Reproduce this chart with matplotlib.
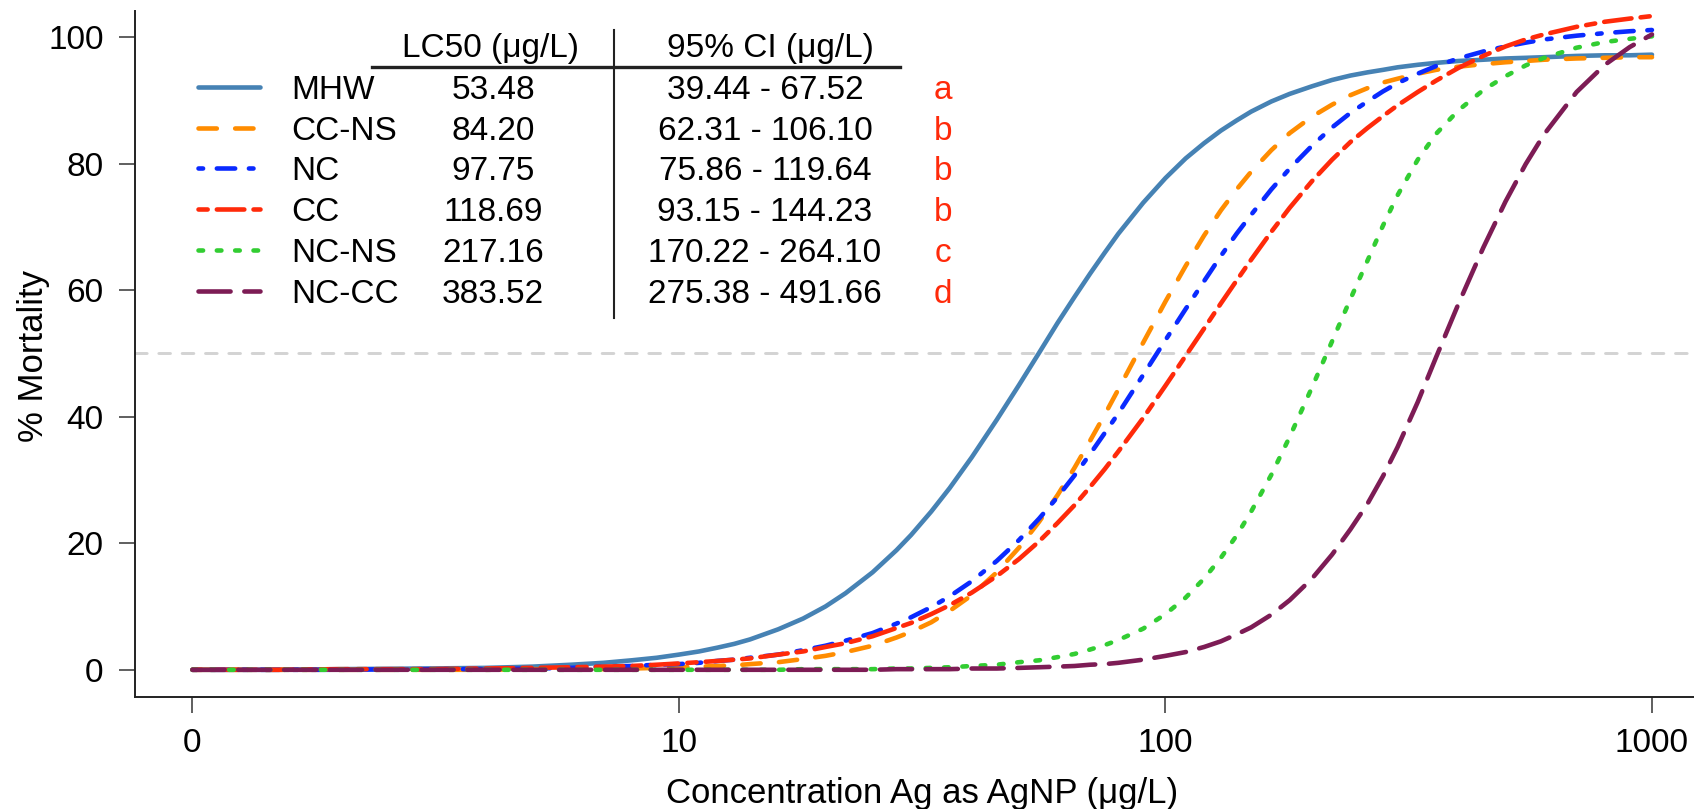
import matplotlib.pyplot as plt
from matplotlib.lines import Line2D
from matplotlib.ticker import NullLocator

plt.rcParams['font.family'] = ['Liberation Sans', 'DejaVu Sans']

# concentration (ug/L), 1 is drawn at the "0" tick
conc = [1, 1.5, 2, 3, 4, 5, 6, 7, 8, 9,
        10, 11, 12, 13, 14, 16, 18, 20, 22, 25,
        28, 30, 33, 36, 40, 45, 50, 55, 60, 65,
        70, 75, 80, 90, 100, 110, 120, 130, 140, 150,
        165, 180, 200, 220, 240, 260, 280, 300, 330, 360,
        400, 450, 500, 550, 600, 700, 800, 900, 1000]

# % mortality
mhw = [0.0, 0.0, 0.1, 0.2, 0.3, 0.5, 0.8, 1.1, 1.5, 1.9,
       2.4, 2.9, 3.5, 4.1, 4.8, 6.4, 8.1, 10.0, 12.1, 15.4,
       18.9, 21.3, 25.0, 28.7, 33.6, 39.5, 45.0, 50.1, 54.8, 58.9,
       62.6, 65.9, 68.9, 73.8, 77.7, 80.8, 83.2, 85.2, 86.8, 88.2,
       89.8, 91.0, 92.2, 93.2, 93.9, 94.4, 94.8, 95.2, 95.6, 95.9,
       96.2, 96.4, 96.6, 96.7, 96.8, 97.0, 97.1, 97.1, 97.2]
cc_ns = [0.0, 0.0, 0.0, 0.0, 0.0, 0.1, 0.1, 0.1, 0.2, 0.3,
         0.4, 0.5, 0.6, 0.7, 0.9, 1.2, 1.7, 2.2, 2.8, 3.8,
         5.1, 6.0, 7.5, 9.3, 11.8, 15.4, 19.3, 23.4, 27.6, 31.9,
         36.2, 40.3, 44.3, 51.7, 58.2, 63.8, 68.6, 72.6, 75.9, 78.7,
         82.1, 84.8, 87.4, 89.3, 90.8, 91.9, 92.8, 93.4, 94.2, 94.8,
         95.3, 95.7, 96.0, 96.2, 96.4, 96.6, 96.7, 96.8, 96.8]
nc = [0.0, 0.0, 0.0, 0.1, 0.1, 0.2, 0.3, 0.5, 0.6, 0.8,
      0.9, 1.1, 1.4, 1.6, 1.9, 2.4, 3.1, 3.8, 4.6, 5.8,
      7.3, 8.3, 9.9, 11.6, 14.0, 17.2, 20.5, 23.9, 27.3, 30.7,
      34.1, 37.4, 40.5, 46.6, 52.1, 57.0, 61.4, 65.4, 68.9, 71.9,
      75.9, 79.2, 82.8, 85.7, 88.0, 89.8, 91.4, 92.7, 94.2, 95.4,
      96.6, 97.7, 98.5, 99.1, 99.6, 100.2, 100.6, 100.9, 101.1]
cc = [0.0, 0.0, 0.1, 0.1, 0.2, 0.3, 0.4, 0.5, 0.6, 0.8,
      1.0, 1.2, 1.4, 1.6, 1.8, 2.4, 2.9, 3.6, 4.2, 5.3,
      6.6, 7.4, 8.8, 10.2, 12.2, 14.8, 17.5, 20.3, 23.2, 26.0,
      28.9, 31.7, 34.5, 39.8, 44.9, 49.6, 53.9, 57.9, 61.5, 64.8,
      69.2, 73.0, 77.2, 80.6, 83.4, 85.6, 87.5, 89.2, 91.3, 93.1,
      95.1, 97.0, 98.5, 99.6, 100.4, 101.6, 102.4, 102.9, 103.3]
nc_ns = [0.0, 0.0, 0.0, 0.0, 0.0, 0.0, 0.0, 0.0, 0.0, 0.0,
         0.0, 0.0, 0.0, 0.0, 0.0, 0.0, 0.1, 0.1, 0.1, 0.1,
         0.2, 0.2, 0.3, 0.4, 0.6, 0.8, 1.2, 1.5, 2.0, 2.5,
         3.2, 3.9, 4.7, 6.5, 8.8, 11.4, 14.4, 17.7, 21.2, 25.0,
         30.8, 36.8, 44.6, 51.9, 58.6, 64.6, 70.2, 75.0, 80.6, 84.7,
         88.4, 91.6, 93.8, 95.5, 96.7, 98.3, 99.2, 99.7, 100.1]
nc_cc = [0.0, 0.0, 0.0, 0.0, 0.0, 0.0, 0.0, 0.0, 0.0, 0.0,
         0.0, 0.0, 0.0, 0.0, 0.0, 0.0, 0.0, 0.0, 0.0, 0.0,
         0.1, 0.1, 0.1, 0.1, 0.2, 0.2, 0.3, 0.4, 0.5, 0.6,
         0.8, 0.9, 1.1, 1.6, 2.2, 2.8, 3.6, 4.5, 5.6, 6.7,
         8.7, 11.0, 14.4, 18.2, 22.2, 26.2, 30.6, 35.2, 42.3, 49.4,
         57.8, 66.7, 74.0, 79.9, 84.6, 91.3, 95.6, 98.4, 100.4]

names = ['MHW', 'CC-NS', 'NC', 'CC', 'NC-NS', 'NC-CC']
lc50 = ['53.48', '84.20', '97.75', '118.69', '217.16', '383.52']
ci95 = ['39.44 - 67.52', '62.31 - 106.10', '75.86 - 119.64', '93.15 - 144.23',
        '170.22 - 264.10', '275.38 - 491.66']
groups = ['a', 'b', 'b', 'b', 'c', 'd']

curves = [mhw, cc_ns, nc, cc, nc_ns, nc_cc]
colors = ['#4682b4', '#ff8c00', '#0a2aff', '#ff2a0a', '#32cd32', '#7d1c55']
# R line types: solid, dashed, dotdash, twodash, dotted, longdash
dashes = [None, (4, 4), (1, 3, 4, 3), (2, 2, 6, 2), (1, 3), (7, 3)]
LW = 3.3

W, H = 1694, 809
fig = plt.figure(figsize=(W / 100, H / 100), dpi=100)
ax = fig.add_axes([135 / W, 1 - 697 / H, 1 - 135 / W, (697 - 11) / H])


def fx(px):
    return px / W


def fy(py):
    return 1 - py / H


def style(col, d):
    kw = dict(color=col, lw=LW, solid_capstyle='round', dash_capstyle='round',
              solid_joinstyle='round')
    if d:
        kw['dashes'] = d
    return kw


ax.axhline(50, color='#d3d3d3', lw=2.1, dashes=(4, 4), dash_capstyle='round', zorder=1)
for y, col, d in zip(curves, colors, dashes):
    ax.plot(conc, y, zorder=2, **style(col, d))

ax.set_xscale('log')
ax.set_xlim(0.762, 1220)
ax.set_ylim(-4.3, 104.1)
ax.set_xticks([1, 10, 100, 1000])
ax.set_xticklabels(['0', '10', '100', '1000'])
ax.xaxis.set_minor_locator(NullLocator())
ax.set_yticks([0, 20, 40, 60, 80, 100])
ax.tick_params(labelsize=24, length=11.5, width=1.2, color='#444444', pad=11)

for s in ['top', 'right']:
    ax.spines[s].set_visible(False)
for s in ['left', 'bottom']:
    ax.spines[s].set_linewidth(1.4)
    ax.spines[s].set_color('#222222')

ax.set_xlabel('Concentration Ag as AgNP (μg/L)', fontsize=25)
ax.set_ylabel('% Mortality', fontsize=25)
ax.xaxis.set_label_coords((922 - 135) / 1559, (697 - 794) / 686)
ax.yaxis.set_label_coords((34 - 135) / 1559, (697 - 356.5) / 686)
ax.xaxis.label.set_va('center')
ax.yaxis.label.set_va('center')

# table legend
FS = 24
fig.text(fx(490), fy(57), 'LC50 (μg/L)', fontsize=FS, ha='center', va='baseline')
fig.text(fx(770), fy(57), '95% CI (μg/L)', fontsize=FS, ha='center', va='baseline')
fig.add_artist(Line2D([fx(372), fx(900)], [fy(66.5), fy(66.5)], lw=2.4, color='#222222'))
fig.add_artist(Line2D([fx(614), fx(614)], [fy(30), fy(318)], lw=1.5, color='#222222'))

for i in range(len(names)):
    yl = 86.7 + 40.8 * i
    fig.add_artist(Line2D([fx(198.3), fx(259.7)], [fy(yl), fy(yl)], **style(colors[i], dashes[i])))
    yb = fy(yl + 12)
    fig.text(fx(291), yb, names[i], fontsize=FS, ha='left', va='baseline')
    fig.text(fx(493), yb, lc50[i], fontsize=FS, ha='center', va='baseline')
    fig.text(fx(765), yb, ci95[i], fontsize=FS, ha='center', va='baseline')
    fig.text(fx(943), yb, groups[i], fontsize=FS, ha='center', va='baseline', color='#ff2a0a')

fig.savefig('out.png', dpi=100)
